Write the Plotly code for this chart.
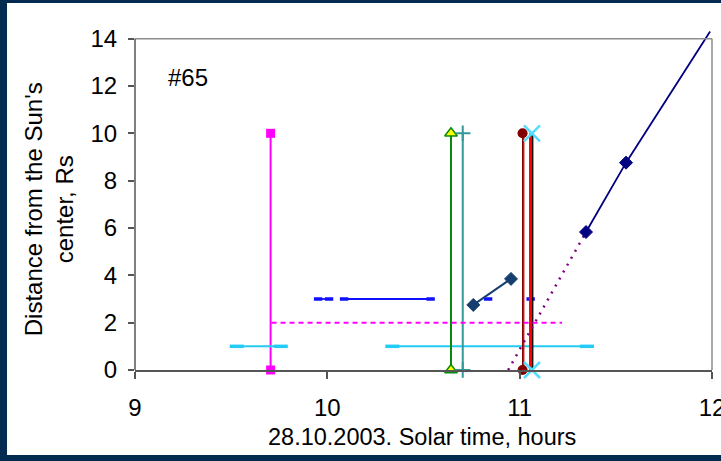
import plotly.graph_objects as go

# ---- data ----
x_ticks = [9, 10, 11, 12]
y_ticks = [0, 2, 4, 6, 8, 10, 12, 14]

magenta_x = [9.705, 9.705]
magenta_y = [0, 10]
magenta_dot_x = [9.71, 11.22]
magenta_dot_y = [2, 2]

cyan_a_x = [9.529, 9.758]
cyan_b_x = [10.338, 11.350]
cyan_y = [1, 1]

blue_x = [9.952, 10.009, None, 10.087, 10.537, None, 10.836, None, 11.057]
blue_y = [3, 3, None, 3, 3, None, 3, None, 3]

navy_short_x = [10.759, 10.955]
navy_short_y = [2.75, 3.85]

green_x = [10.643, 10.643]
teal_x = [10.704, 10.704]
darkred_x = [11.019, 11.019]
red_x = [11.057, 11.057]
xmark_x = [11.064, 11.064]
black_x = [11.068, 11.068]
vert_y = [0, 10]

purple_x = [10.94, 11.345]
purple_y = [0, 5.83]

navy_x = [11.345, 11.553, 11.99]
navy_y = [5.83, 8.76, 14.3]

FONT = "Liberation Sans, Arial, sans-serif"

fig = go.Figure()


def add(x, y, color, width=2, dash=None, symbol=None, msize=8, mcolor=None,
        mline=None, mlinew=0, sizes=None):
    mode = "lines+markers" if symbol else "lines"
    marker = None
    if symbol:
        marker = dict(symbol=symbol, size=sizes if sizes else msize,
                      color=mcolor or color, opacity=1,
                      line=dict(color=mline or color, width=mlinew))
    fig.add_trace(go.Scatter(x=x, y=y, mode=mode,
                             line=dict(color=color, width=width, dash=dash),
                             marker=marker, cliponaxis=False,
                             showlegend=False, hoverinfo="skip"))


add(magenta_x, magenta_y, "#FF00FF", 2, symbol="square", msize=9)
add(cyan_a_x, cyan_y, "#22CCF5", 2, symbol="line-ew", msize=10, mlinew=3.5)
add(cyan_b_x, cyan_y, "#22CCF5", 2, symbol="line-ew", msize=10, mlinew=3.5)
add(blue_x, blue_y, "#1010FF", 1.8, symbol="line-ew", msize=6, mlinew=3.5)
add(navy_short_x, navy_short_y, "#153E6E", 2, symbol="diamond", msize=10,
    mlinew=1)
add(green_x, vert_y, "#0A8A0A", 2, symbol="triangle-up", msize=11,
    mcolor="#FFFF00", mline="#0A8A0A", mlinew=1.5)
add(teal_x, vert_y, "#339999", 2, symbol="cross-thin", msize=11,
    mline="#339999", mlinew=2)
add(darkred_x, vert_y, "#D01010", 2.2)
add([x - 0.004 for x in darkred_x], vert_y, "#800000", 1, symbol="circle",
    msize=10)
add(red_x, vert_y, "#FF0000", 3.2)
add(black_x, vert_y, "#000000", 1.3)
add(xmark_x, vert_y, "rgba(0,0,0,0)", 0.1, symbol="x-thin", msize=16,
    mline="#55DDFF", mlinew=2.5)
add(magenta_dot_x, magenta_dot_y, "#FF00FF", 2, dash="5px,4px")
add(purple_x, purple_y, "#800080", 2.5, dash="2px,6px")
add(navy_x, navy_y, "#000080", 1.8, symbol="diamond", sizes=[10, 10, 0],
    mlinew=1)

shapes = [
    # white inner panel over the navy frame
    dict(type="rect", xref="paper", yref="paper", x0=-0.2218, x1=1.03,
         y0=-0.2486, y1=1.0733, fillcolor="white", line=dict(width=0),
         layer="below"),
    # top and right border of the plot area
    dict(type="line", xref="paper", yref="y", x0=0, x1=1, y0=14, y1=14,
         line=dict(color="#8C8C8C", width=1.5)),
    dict(type="line", xref="paper", yref="y", x0=1, x1=1, y0=0, y1=14,
         line=dict(color="#8C8C8C", width=1.5)),
    # left axis line
    dict(type="line", xref="paper", yref="y", x0=0, x1=0, y0=0, y1=14,
         line=dict(color="#555555", width=1.5)),
]

annotations = [
    dict(text="#65", xref="paper", yref="paper", x=0.0919, y=0.854,
         xanchor="center", yanchor="middle", showarrow=False,
         font=dict(family=FONT, size=24, color="black")),
    dict(text="28.10.2003. Solar time, hours", xref="paper", yref="paper",
         x=0.497, y=-0.196, xanchor="center", yanchor="middle",
         showarrow=False, font=dict(family=FONT, size=23.5, color="black")),
    dict(text="Distance from the Sun's<br>center, Rs", xref="paper",
         yref="paper", x=-0.149, y=0.47, xanchor="center", yanchor="middle",
         textangle=-90, showarrow=False,
         font=dict(family=FONT, size=24, color="black")),
]

fig.update_layout(
    width=721, height=461,
    margin=dict(l=135, r=9, t=28, b=91, autoexpand=False),
    paper_bgcolor="#032B52",
    plot_bgcolor="white",
    shapes=shapes,
    annotations=annotations,
    font=dict(family=FONT, size=24, color="black"),
    xaxis=dict(range=[9, 12], tickvals=x_ticks, ticktext=[str(v) for v in x_ticks],
               showgrid=False, zeroline=False, showline=True,
               linecolor="#555555", linewidth=1.5, ticks="outside",
               ticklen=7, tickcolor="#555555", tickwidth=1.5,
               ticklabelstandoff=8, ticklabeloverflow="allow",
               automargin=False,
               tickfont=dict(family=FONT, size=24, color="black")),
    yaxis=dict(range=[0, 14.45], tickvals=y_ticks, ticktext=[str(v) for v in y_ticks],
               showgrid=False, zeroline=False, showline=False,
               ticks="outside", ticklen=6, tickcolor="#555555", tickwidth=1.5,
               ticklabelstandoff=6, ticklabeloverflow="allow",
               automargin=False,
               tickfont=dict(family=FONT, size=24, color="black")),
)

fig.write_html("out.html",
               config={"displayModeBar": False},
               post_script="document.body.style.margin='0';"
                           "document.body.style.overflow='hidden';")
